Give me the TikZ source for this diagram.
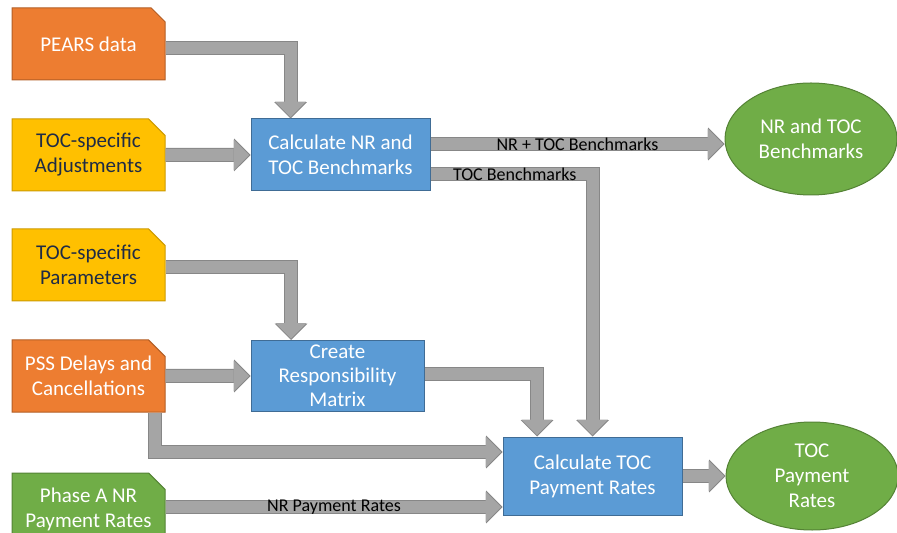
\documentclass[tikz,border=0pt]{standalone}
\usepackage{fontspec}
\setmainfont{Carlito}
\usetikzlibrary{arrows.meta, positioning, shapes.geometric, shapes.misc}
\definecolor{corange}{HTML}{ED7D31}
\definecolor{cyellow}{HTML}{FFC000}
\definecolor{cgreen}{HTML}{70AD47}
\definecolor{cblue}{HTML}{5B9BD5}
\definecolor{cgrey}{HTML}{A5A5A5}
\definecolor{cgreyline}{HTML}{878787}
\definecolor{cnavy}{HTML}{1F2B45}

\begin{document}
\begin{tikzpicture}[
  x=0.5pt, y=-0.5pt,
  font=\fontsize{10.5}{12.5}\selectfont,
  node distance=19pt and 42.5pt,
  src/.style={chamfered rectangle, chamfered rectangle corners=north east,
              chamfered rectangle xsep=5pt, line width=0.5pt, align=center,
              minimum width=76.5pt, minimum height=36pt, inner sep=0pt, text=white},
  srcorange/.style={src, fill=corange, draw=corange!75!black},
  srcyellow/.style={src, fill=cyellow, draw=cyellow!80!black, text=cnavy},
  srcgreen/.style={src, fill=cgreen, draw=cgreen!75!black},
  proc/.style={draw=cblue!70!black, fill=cblue, line width=0.5pt, align=center,
               minimum width=89.5pt, minimum height=36pt, inner sep=0pt, text=white},
  result/.style={ellipse, draw=cgreen!75!black, fill=cgreen, line width=0.5pt, align=center,
              minimum width=86pt, minimum height=55pt, inner sep=0pt, text=white},
  flow/.style={draw=cgrey, line width=6pt, line join=miter, shorten >=0.7pt,
               -{Triangle[length=7.7pt, width=15.4pt, line width=0pt]},
               preaction={draw=cgreyline, line width=7pt, shorten >=0pt,
                          -{Triangle[length=8.2pt, width=16.4pt, line width=0pt]}}},
  lbl/.style={font=\fontsize{9}{10}\selectfont, inner sep=0pt, text=black},
  ]
\useasboundingbox (0,0) rectangle (897,533);

% inputs
\node[srcorange] (pears) at (88.5,44) {PEARS data};
\node[srcyellow, below=of pears] (adjust) {TOC-specific\\Adjustments};
\node[srcyellow, below=18.5pt of adjust] (params) {TOC-specific\\Parameters};
\node[srcorange, below=of params] (pss) {PSS Delays and\\Cancellations};
\node[srcgreen, below=30pt of pss] (phase) {Phase A NR\\Payment Rates};

% processes
\node[proc, right=of adjust] (calcnr) {Calculate NR and\\TOC Benchmarks};
\node[proc, right=of pss, minimum width=86.5pt, minimum height=35.5pt,
      font=\fontsize{10.5}{12}\selectfont] (resp) {Create\\Responsibility\\Matrix};
\node[proc, minimum height=39pt] (calctoc) at (592.5,476) {Calculate TOC\\Payment Rates};

% outputs
\node[result, minimum height=56pt] (outbench) at (811,139) {NR and TOC\\Benchmarks};
\node[result, right=21.5pt of calctoc, minimum height=54pt] (outpay) {TOC\\Payment\\Rates};

\coordinate (nrout) at ([yshift=5.5pt]calcnr.east);
\coordinate (nrpay) at ([yshift=1pt]phase.east);

\draw[flow] ([yshift=-2pt]pears.east) -| ([xshift=-25pt]calcnr.north);
\draw[flow] (adjust) -- (calcnr);
\draw[flow] (nrout) -- (nrout -| outbench.west) node[lbl, midway] {NR + TOC Benchmarks};
\draw[flow] ([yshift=-9.5pt]calcnr.east) -| (calctoc.north) node[lbl, pos=0.26] {TOC Benchmarks};
\draw[flow] ([yshift=-1.25pt]params.east) -| ([xshift=-23.25pt]resp.north);
\draw[flow] (pss) -- (resp);
\draw[flow] ([yshift=1.25pt]resp.east) -| ([xshift=-27.75pt]calctoc.north);
\draw[flow] ([xshift=33.25pt]pss.south) |- ([yshift=12pt]calctoc.west);
\draw[flow] (nrpay) -- (nrpay -| calctoc.west) node[lbl, midway] {NR Payment Rates};
\draw[flow] (calctoc) -- (outpay);
\end{tikzpicture}
\end{document}
